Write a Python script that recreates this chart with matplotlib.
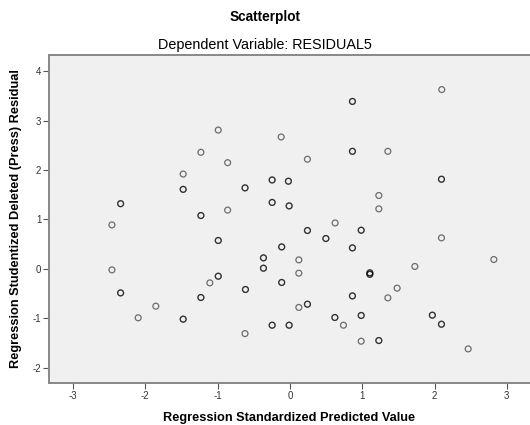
import matplotlib.pyplot as plt

plt.rcParams["font.family"] = ["Liberation Sans", "DejaVu Sans"]
plt.rcParams["axes.unicode_minus"] = False

# light rings = one case, dark rings = two cases at the same spot
single_x = [-0.99, -0.12, -1.23, -0.86, -1.475, -0.86, -2.46, 2.10, 0.243, 1.355,
            1.23, 1.23, 0.626, -2.46, -1.106, -1.853, -2.097, -0.62, 2.096, 0.124,
            0.124, 2.82, 1.728, 1.483, 1.355, 0.124, 0.741, 0.986, 2.465]
single_y = [2.81, 2.67, 2.36, 2.15, 1.92, 1.19, 0.89, 3.63, 2.22, 2.38,
            1.486, 1.215, 0.93, -0.02, -0.283, -0.755, -0.99, -1.31, 0.628, 0.182,
            -0.087, 0.19, 0.049, -0.39, -0.587, -0.78, -1.14, -1.464, -1.62]

double_x = [-1.475, -0.245, -0.02, -0.62, -2.34, -0.245, -0.01, -1.23, 0.865, 0.865,
            2.096, 0.243, 0.986, -0.99, -0.113, -0.365, -0.365, -0.113, -2.34, -0.99,
            -0.614, -1.23, -1.475, -0.245, -0.01, 0.498, 0.865, 1.106, 1.106, 0.865,
            0.243, 0.622, 0.986, 1.97, 2.096, 1.23]
double_y = [1.61, 1.80, 1.775, 1.64, 1.32, 1.345, 1.275, 1.08, 3.39, 2.38,
            1.815, 0.777, 0.783, 0.575, 0.445, 0.223, 0.014, -0.275, -0.486, -0.148,
            -0.417, -0.579, -1.018, -1.14, -1.14, 0.615, 0.425, -0.08, -0.11, -0.547,
            -0.715, -0.984, -0.943, -0.937, -1.12, -1.45]

x_ticks = [-3, -2, -1, 0, 1, 2, 3]
y_ticks = [-2, -1, 0, 1, 2, 3, 4]

xs = single_x + double_x + double_x
ys = single_y + double_y + double_y

fig = plt.figure(figsize=(5.3, 4.25), dpi=100)
ax = fig.add_axes([49 / 530, 42 / 425, 481 / 530, 328.5 / 425])
ax.set_facecolor("#f0f0f0")

ax.scatter(xs, ys, s=18, facecolors="none", edgecolors="black",
           linewidths=0.9, alpha=0.55, zorder=3)

ax.set_xlim(-3.33, 3.32)
ax.set_ylim(-2.31, 4.34)
ax.set_xticks(x_ticks)
ax.set_yticks(y_ticks)
ax.tick_params(direction="out", length=4, width=0.8, color="#555555",
               labelsize=7, labelcolor="#333333", pad=1.5)

for side in ["top", "left", "bottom"]:
    ax.spines[side].set_color("#888888")
    ax.spines[side].set_linewidth(1.4)
ax.spines["right"].set_visible(False)

ax.set_xlabel("Regression Standardized Predicted Value", fontsize=9.2,
              fontweight="bold", labelpad=8)
ax.set_ylabel("Regression Studentized Deleted (Press) Residual", fontsize=9.2,
              fontweight="bold", labelpad=8)

fig.text(0.5, 1 - 17 / 425, "Scatterplot", ha="center", va="center",
         fontsize=9.8, fontweight="bold")
fig.text(0.5, 1 - 45 / 425, "Dependent Variable: RESIDUAL5", ha="center",
         va="center", fontsize=10.4)

fig.savefig("out.png", dpi=100)
